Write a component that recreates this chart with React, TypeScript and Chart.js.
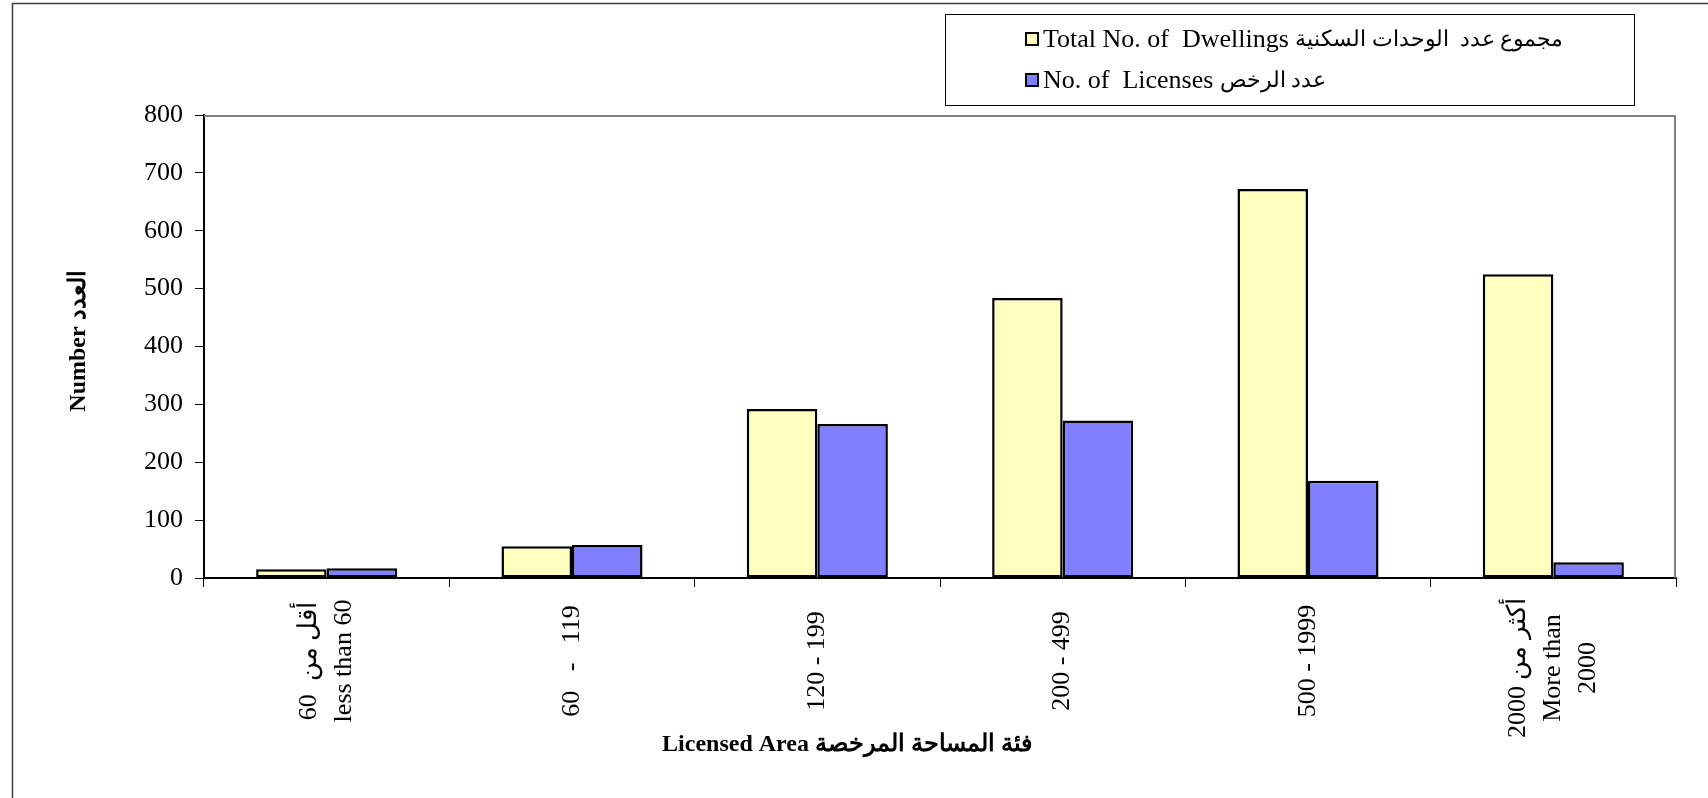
import React, { useEffect, useRef } from 'react';
import { Chart, registerables } from 'chart.js';

Chart.register(...registerables);

// ---- data ----
const categories: string[][] = [
  ['60  أقل من', 'less than 60'],
  ['60   -   119'],
  ['120 - 199'],
  ['200 - 499'],
  ['500 - 1999'],
  ['2000 أكثر من', 'More than', '2000'],
];
const dwellings = [15, 55, 292, 484, 672, 525];
const licenses = [17, 57, 266, 272, 168, 27];
const seriesEn = ['Total No. of  Dwellings', 'No. of  Licenses'];
const seriesAr = ['مجموع عدد  الوحدات السكنية', 'عدد الرخص'];
const seriesColors = ['#FFFFC0', '#8080FF'];
const yMin = 0;
const yMax = 800;
const yStep = 100;
const xTitle = 'Licensed Area فئة المساحة المرخصة';
const yTitle = 'Number العدد';

const SERIF = "'Liberation Serif', 'Times New Roman', serif";

const decorPlugin = {
  id: 'decor',
  beforeDraw(chart: any) {
    const ctx = chart.ctx;
    ctx.save();
    ctx.fillStyle = '#ffffff';
    ctx.fillRect(0, 0, chart.width, chart.height);
    // outer frame
    ctx.strokeStyle = '#404040';
    ctx.lineWidth = 1.5;
    ctx.beginPath();
    ctx.moveTo(12.5, chart.height + 2);
    ctx.lineTo(12.5, 3.5);
    ctx.lineTo(chart.width + 2, 3.5);
    ctx.stroke();
    ctx.restore();
  },
  beforeDatasetsDraw(chart: any) {
    const ctx = chart.ctx;
    const a = chart.chartArea;
    ctx.save();
    ctx.strokeStyle = '#808080';
    ctx.lineWidth = 2;
    ctx.beginPath();
    ctx.moveTo(a.left, a.top + 1);
    ctx.lineTo(a.right - 1, a.top + 1);
    ctx.lineTo(a.right - 1, a.bottom);
    ctx.stroke();
    ctx.restore();
  },
  afterDraw(chart: any) {
    const ctx = chart.ctx;
    const xs = chart.scales.x;
    ctx.save();
    ctx.fillStyle = '#000';
    // x tick labels (rotated, centred)
    ctx.font = `26px ${SERIF}`;
    ctx.textAlign = 'center';
    ctx.textBaseline = 'middle';
    const lineH = 35;
    categories.forEach((lines, i) => {
      const x = xs.getPixelForValue(i);
      const cy = lines.length > 2 ? 668 : 661;
      ctx.save();
      ctx.translate(x, cy);
      ctx.rotate(-Math.PI / 2);
      lines.forEach((ln, k) => {
        ctx.fillText(ln, 0, (k - (lines.length - 1) / 2) * lineH);
      });
      ctx.restore();
    });
    // x title
    ctx.font = `bold 24px ${SERIF}`;
    ctx.fillText(xTitle, 847, 745);
    // y title
    ctx.save();
    ctx.translate(79, 341);
    ctx.rotate(-Math.PI / 2);
    ctx.fillText(yTitle, 0, 0);
    ctx.restore();
    // legend
    ctx.strokeStyle = '#000';
    ctx.lineWidth = 1;
    ctx.strokeRect(945.5, 14.5, 689, 91);
    ctx.textAlign = 'left';
    const rowsY = [39, 80];
    seriesEn.forEach((name, i) => {
      const y = rowsY[i];
      ctx.fillStyle = seriesColors[i];
      ctx.fillRect(1026, y - 6, 12, 12);
      ctx.strokeStyle = '#000';
      ctx.lineWidth = 2;
      ctx.strokeRect(1026, y - 6, 12, 12);
      ctx.fillStyle = '#000';
      ctx.font = `26px ${SERIF}`;
      ctx.fillText(name, 1043, y + 1);
      const w = ctx.measureText(name + ' ').width;
      ctx.font = `22px ${SERIF}`;
      ctx.fillText(seriesAr[i], 1043 + w, y + 1);
    });
    ctx.restore();
  },
};

export default function App() {
  const ref = useRef<HTMLCanvasElement | null>(null);
  useEffect(() => {
    if (!ref.current) return;
    const chart = new Chart(ref.current, {
      type: 'bar',
      data: {
        labels: categories.map((c) => c.join(' ')),
        datasets: [
          {
            label: seriesEn[0] + ' ' + seriesAr[0],
            data: dwellings,
            backgroundColor: seriesColors[0],
            borderColor: '#000',
            borderWidth: 2.5,
            borderSkipped: false,
          },
          {
            label: seriesEn[1] + ' ' + seriesAr[1],
            data: licenses,
            backgroundColor: seriesColors[1],
            borderColor: '#000',
            borderWidth: 2.5,
            borderSkipped: false,
          },
        ],
      },
      options: {
        responsive: false,
        animation: false,
        layout: { padding: { left: 0, right: 32, top: 115, bottom: 0 } },
        datasets: { bar: { categoryPercentage: 0.575, barPercentage: 1 } },
        plugins: {
          legend: { display: false },
          tooltip: { enabled: false },
          title: { display: false },
        },
        scales: {
          x: {
            grid: {
              display: true,
              drawOnChartArea: false,
              drawTicks: true,
              tickLength: 9,
              color: '#000',
              lineWidth: 1,
              offset: true,
            },
            border: { display: true, color: '#000', width: 2 },
            ticks: { display: false },
            afterFit: (s: any) => {
              s.height = 220;
            },
          },
          y: {
            min: yMin,
            max: yMax,
            ticks: {
              stepSize: yStep,
              color: '#000',
              padding: 12,
              font: { family: SERIF, size: 26 },
            },
            grid: {
              drawOnChartArea: false,
              drawTicks: true,
              tickLength: 9,
              color: '#000',
              lineWidth: 1,
            },
            border: { display: true, color: '#000', width: 2 },
            afterFit: (s: any) => {
              s.width = 204;
            },
          },
        },
      } as any,
      plugins: [decorPlugin],
    });
    return () => chart.destroy();
  }, []);
  return (
    <div style={{ position: 'fixed', left: 0, top: 0, width: 1708, height: 798, background: '#fff' }}>
      <canvas ref={ref} width={1708} height={798} style={{ display: 'block' }} />
    </div>
  );
}
